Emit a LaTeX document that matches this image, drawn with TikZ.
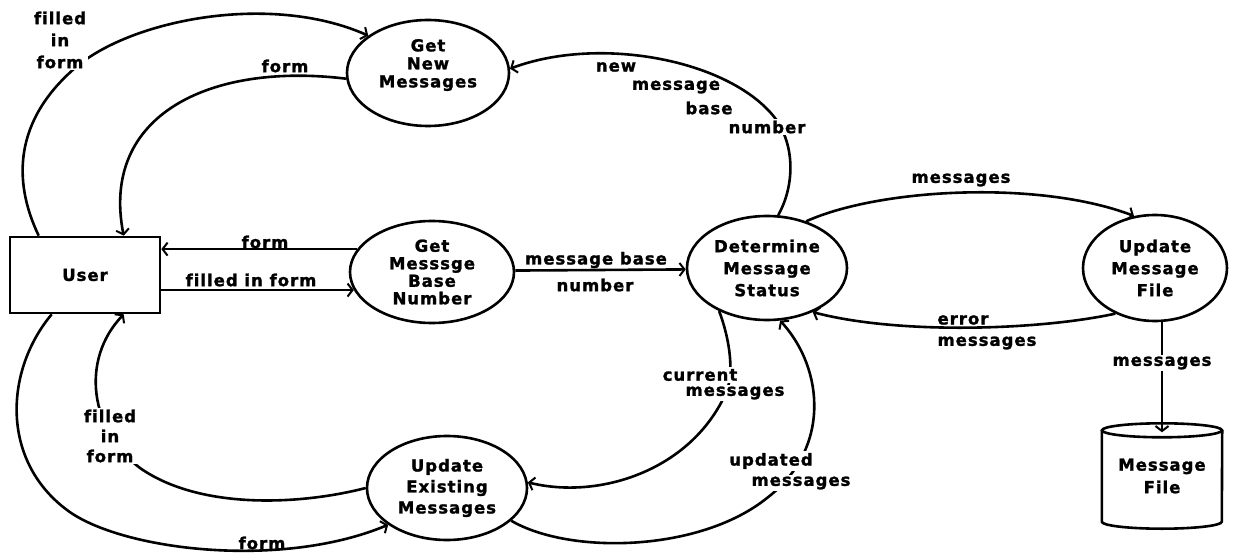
\documentclass[tikz,border=0pt]{standalone}
\usepackage{fontspec}
\newfontfamily\dfdfont[LetterSpace=6,Ligatures=CommonOff,BoldFeatures={FakeBold=1.5}]{DejaVu Sans}
\usetikzlibrary{shapes.geometric,arrows.meta,calc}
\begin{document}
\begin{tikzpicture}[x=1pt,y=-1pt,
  every node/.style={font=\dfdfont\bfseries\fontsize{16.5}{17.5}\selectfont, align=center, inner sep=0pt},
  proc/.style={ellipse, draw, line width=2.6pt},
  ubox/.style={rectangle, draw, line width=2.6pt},
  conn/.style={line width=2.6pt, -{Straight Barb[length=5pt,width=13pt,line width=2pt]}},
  lbl/.style={fill=white, inner sep=2pt},
  outline/.style={line width=2.6pt}]
\useasboundingbox (0,0) rectangle (1237,556);

% processes and entities
\node[ubox, minimum width=150pt, minimum height=76pt] (user) at (85,275) {User};
\node[proc, minimum width=162pt, minimum height=106pt] (gnm) at (428,73) {Get\\[0.5pt]New\\[0.5pt]Messages\\[2pt]\mbox{}};
\node[proc, minimum width=164pt, minimum height=102pt] (gmbn) at (432,272) {Get\\Messsge\\Base\\Number};
\node[proc, minimum width=160pt, minimum height=104pt] (dms) at (767,268) {Determine\\[4.5pt]Message\\[4.5pt]Status};
\node[proc, minimum width=144pt, minimum height=106pt] (umf) at (1155,268) {Update\\[4.5pt]Message\\[4.5pt]File};
\node[proc, minimum width=160pt, minimum height=104pt] (uem) at (447,488) {Update\\[3.5pt]Existing\\[3.5pt]Messages};
\node[minimum width=120pt, minimum height=105pt] (mf) at (1162,476) {Message\\[5pt]File};
\draw[outline] ([yshift=-7pt]mf.north) ellipse [x radius=60pt, y radius=7pt];
\draw[outline] ([yshift=-7pt]mf.north west) -- ([yshift=7pt]mf.south west)
   arc[start angle=180, end angle=360, x radius=60pt, y radius=7pt] -- ([yshift=-7pt]mf.north east);

% connectors
\draw[conn] ([xshift=30pt]user.north west) .. controls (12,180) and (15,120) .. (75,68)
   .. controls (130,20) and (270,-8) .. (gnm.148);
\draw[conn] (gnm.184) .. controls (210,62) and (100,115) .. ([xshift=115pt]user.north west);
\draw[conn] (dms.78) .. controls (795,185) and (795,145) .. (775,118)
   .. controls (730,60) and (600,35) .. (gnm.3);
\draw[conn] (gmbn.163) -- (gmbn.163 -| user.east);
\draw[conn] (gmbn.193 -| user.east) -- (gmbn.193);
\draw[conn] (gmbn.1) -- (dms.181);
\draw[conn] (dms.50) .. controls (880,188) and (1040,180) .. (umf.112);
\draw[conn] (umf.229) .. controls (1040,330) and (900,335) .. (dms.316);
\draw[conn] (umf.south -| mf.north) -- ([yshift=-9pt]mf.north);
\draw[conn] (dms.222) .. controls (730,340) and (735,375) .. (725,395)
   .. controls (690,470) and (600,500) .. (uem.4);
\draw[conn] (uem.333) .. controls (570,555) and (700,552) .. (767,498)
   .. controls (830,450) and (825,370) .. (dms.284);
\draw[conn] ([xshift=43pt]user.south west) .. controls (5,370) and (0,460) .. (67,510)
   .. controls (120,550) and (280,570) .. (uem.212);
\draw[conn] (uem.west) .. controls (300,505) and (200,510) .. (140,468)
   .. controls (90,430) and (80,360) .. ([xshift=115pt]user.south west);

% labels
\node[lbl] (l1) at (60,40) {filled\\[4.5pt]in\\[4.5pt]form};
\node (l2) at (285,66) {form};
\node (l3a) at (616,67) {new};
\node (l3b) at (676,87) {message};
\node (l3c) at (709,108) {base};
\node[lbl] (l3d) at (767,127) {number};
\node (l4) at (265,242) {form};
\node (l5) at (251,280) {filled in form};
\node (l6a) at (596,260) {message base};
\node (l6b) at (595,285) {number};
\node (l7) at (961,180) {messages};
\node (l8a) at (963,320) {error};
\node (l8b) at (987,343) {messages};
\node[lbl] (l9) at (1162,363) {messages};
\node[lbl] (l10a) at (700,375) {current};
\node[lbl] (l10b) at (735,393) {messages};
\node[lbl] (l11a) at (771,461) {updated};
\node[lbl] (l11b) at (801,483) {messages};
\node (l12) at (262,543) {form};
\node[lbl] (l13) at (110,436) {filled\\[2.5pt]in\\[2.5pt]form};
\end{tikzpicture}
\end{document}
